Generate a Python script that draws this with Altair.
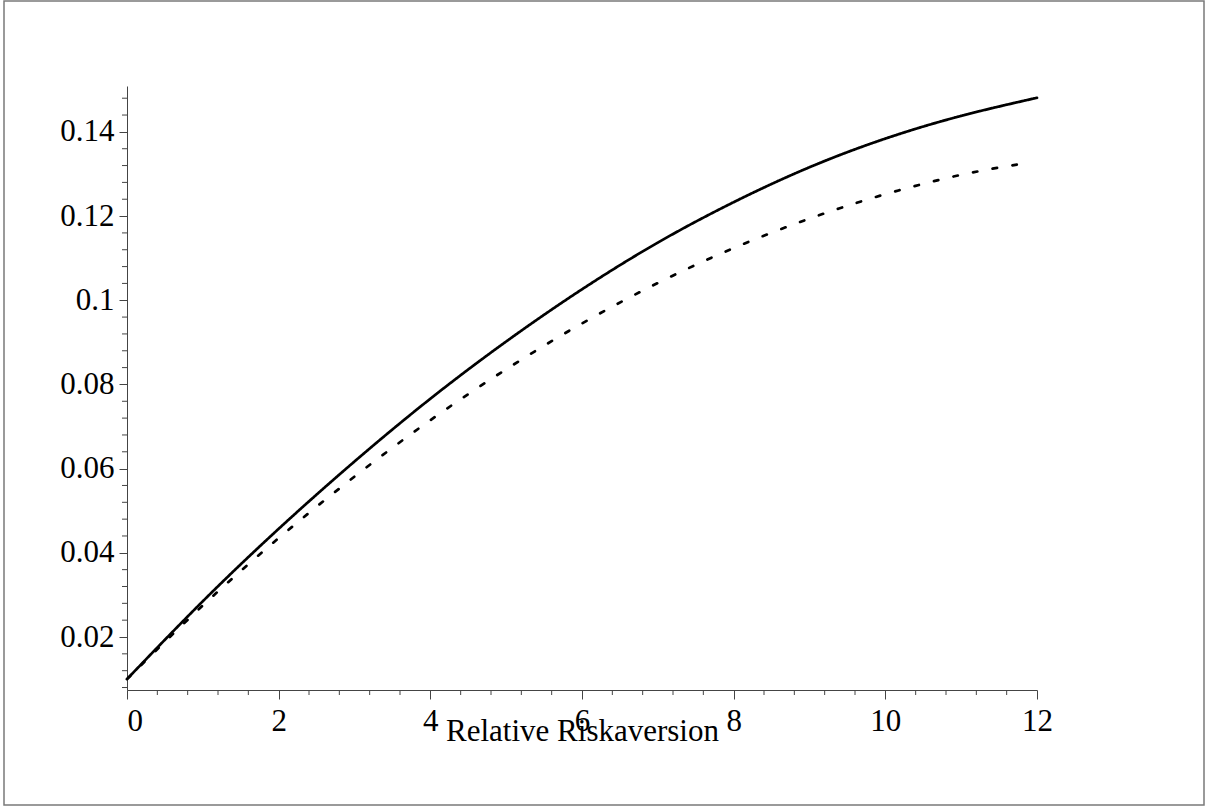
import altair as alt
import pandas as pd

# Relative risk aversion on the x axis
x_solid = [0, 1, 2, 3, 4, 5, 6, 7, 8, 9, 10, 11, 12]
y_solid = [0.0100, 0.0285, 0.0457, 0.0617, 0.0766, 0.0902, 0.1026,
           0.1137, 0.1233, 0.1316, 0.1384, 0.1438, 0.1481]

x_dashed = [0, 1, 2, 3, 4, 5, 6, 7, 8, 9, 10, 11, 11.8]
y_dashed = [0.0100, 0.0275, 0.0435, 0.0581, 0.0715, 0.0836, 0.0945,
            0.1041, 0.1124, 0.1194, 0.1252, 0.1298, 0.1324]

x_major = [0, 2, 4, 6, 8, 10, 12]
y_major = [0.02, 0.04, 0.06, 0.08, 0.10, 0.12, 0.14]
x_minor = [round(i * 0.4, 2) for i in range(31) if i % 5 != 0]
y_minor = [round(0.008 + i * 0.004, 3) for i in range(36)
           if round((0.008 + i * 0.004) / 0.02, 6) % 1 != 0]

W, H = 910, 604
FONT = "Liberation Serif"
FONT_SIZE = 31
AXIS_COLOR = "#444444"

curves = pd.DataFrame({
    "x": x_solid + x_dashed,
    "y": y_solid + y_dashed,
    "series": ["a"] * len(x_solid) + ["b"] * len(x_dashed),
})

x_scale = alt.Scale(domain=[0, 12], nice=False, zero=False)
y_scale = alt.Scale(domain=[0.00741, 0.1509], nice=False, zero=False)

# one axis definition shared by every layer so the layers merge cleanly
x_axis = alt.Axis(
    values=x_major, format="d", grid=False,
    tickSize=9, labelPadding=7, labelFlush=False,
    labelAlign=alt.condition("datum.value == 0", alt.value("left"), alt.value("center")),
    title="Relative Riskaversion", titleFont=FONT, titleFontSize=FONT_SIZE,
    titleFontWeight="normal", titleColor="black",
    titleX=W / 2, titleY=50, titleAlign="center", titleBaseline="alphabetic",
)
y_axis = alt.Axis(
    values=y_major, format=".2~f", grid=False,
    tickSize=8, labelPadding=5, title=None,
)

lines = alt.Chart(curves).mark_line(
    color="black", strokeWidth=2.7, interpolate="natural", strokeCap="round"
).encode(
    x=alt.X("x:Q", scale=x_scale, axis=x_axis),
    y=alt.Y("y:Q", scale=y_scale, axis=y_axis),
    strokeDash=alt.StrokeDash("series:N", legend=None, scale=alt.Scale(
        domain=["a", "b"], range=[[1, 0], [4.5, 15.5]])),
    detail="series:N",
)

x_minor_ticks = alt.Chart(pd.DataFrame({"x": x_minor})).mark_rule(
    color=AXIS_COLOR, strokeWidth=1
).encode(
    x=alt.X("x:Q", scale=x_scale, axis=x_axis),
    y=alt.value(H), y2=alt.value(H + 5),
)

y_minor_ticks = alt.Chart(pd.DataFrame({"y": y_minor})).mark_rule(
    color=AXIS_COLOR, strokeWidth=1
).encode(
    y=alt.Y("y:Q", scale=y_scale, axis=y_axis),
    x=alt.value(-5), x2=alt.value(0),
)

frame = alt.Chart(pd.DataFrame({"k": [0]})).mark_rect(
    fillOpacity=0, stroke="#7a7a7a", strokeWidth=1.5
).encode(
    x=alt.value(-123), x2=alt.value(1077),
    y=alt.value(-85), y2=alt.value(719),
)

chart = alt.layer(lines, x_minor_ticks, y_minor_ticks, frame).properties(
    width=W, height=H,
    autosize=alt.AutoSizeParams(type="none"),
    padding={"left": 127, "top": 86, "right": 175, "bottom": 117},
    background="white",
).configure_view(stroke=None).configure_axis(
    domainColor=AXIS_COLOR, tickColor=AXIS_COLOR, domainWidth=1, tickWidth=1,
    labelFont=FONT, labelFontSize=FONT_SIZE, labelColor="black",
)

chart.save("out.html", embed_options={"renderer": "svg", "actions": False})
